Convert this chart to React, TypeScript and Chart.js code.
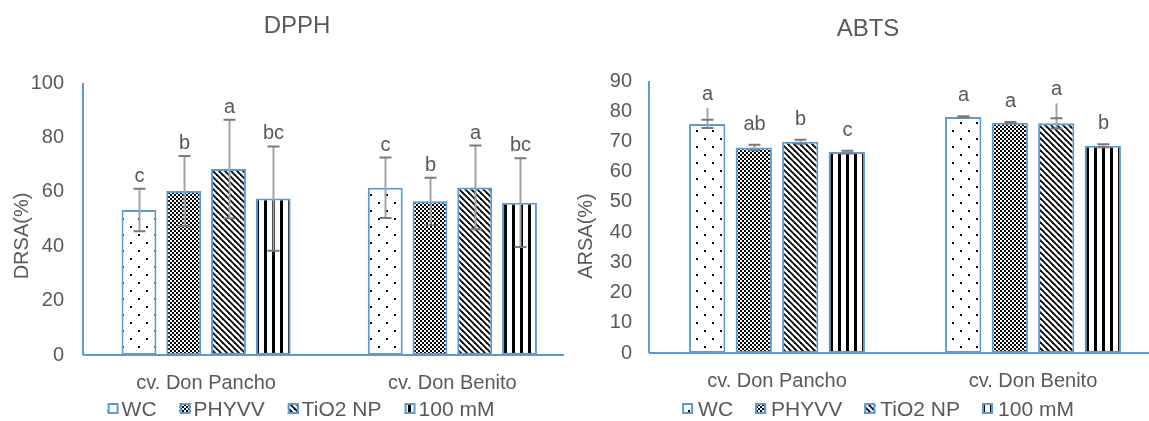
import React, { useEffect, useRef } from "react";
import { Chart, registerables } from "chart.js";

Chart.register(...registerables);

// ---------- data ----------
const categories = ["cv. Don Pancho", "cv. Don Benito"];
const seriesNames = ["WC", "PHYVV", "TiO2 NP", "100 mM"];

// DPPH (DRSA %)
const dpphWC = [53.3, 61.5];
const dpphPHYVV = [60.3, 56.5];
const dpphTiO2 = [68.4, 61.6];
const dpph100 = [57.5, 56.0];
const dpphSdWC = [7.8, 11.1];
const dpphSdPHYVV = [12.9, 8.7];
const dpphSdTiO2 = [18.1, 15.4];
const dpphSd100 = [19.2, 16.3];
const dpphLetWC = ["c", "c"];
const dpphLetPHYVV = ["b", "b"];
const dpphLetTiO2 = ["a", "a"];
const dpphLet100 = ["bc", "bc"];
const dpphTicks = [0, 20, 40, 60, 80, 100];

// ABTS (ARSA %)
const abtsWC = [75.8, 78.1];
const abtsPHYVV = [68.0, 76.2];
const abtsTiO2 = [69.9, 76.0];
const abts100 = [66.5, 68.6];
const abtsSdWC = [1.35, 0.2];
const abtsSdPHYVV = [0.9, 0.2];
const abtsSdTiO2 = [0.65, 1.7];
const abtsSd100 = [0.45, 0.5];
// upper end of the whisker line where it runs past the cap
const abtsWhiskerWC = [81.0, null];
const abtsWhiskerPHYVV = [null, null];
const abtsWhiskerTiO2 = [null, 82.6];
const abtsWhisker100 = [null, null];
const abtsLetWC = ["a", "a"];
const abtsLetPHYVV = ["ab", "a"];
const abtsLetTiO2 = ["b", "a"];
const abtsLet100 = ["c", "b"];
const abtsTicks = [0, 10, 20, 30, 40, 50, 60, 70, 80, 90];

// ---------- styles ----------
const FONT = "'Liberation Sans', Arial, sans-serif";
const TEXT = "#595959";
const BLUE = "#5B9BD5";

function makePattern(kind: string): CanvasPattern {
  const c = document.createElement("canvas");
  const g = c.getContext("2d")!;
  if (kind === "dots") {
    c.width = 16; c.height = 16;
    g.fillStyle = "#fff"; g.fillRect(0, 0, 16, 16);
    g.fillStyle = "#000";
    g.fillRect(2, 2, 2, 2);
    g.fillRect(10, 10, 2, 2);
  } else if (kind === "checker") {
    c.width = 4; c.height = 4;
    g.fillStyle = "#fff"; g.fillRect(0, 0, 4, 4);
    g.fillStyle = "#000";
    g.fillRect(0, 0, 2, 2);
    g.fillRect(2, 2, 2, 2);
  } else if (kind === "diag") {
    c.width = 6; c.height = 6;
    g.fillStyle = "#fff"; g.fillRect(0, 0, 6, 6);
    g.strokeStyle = "#000"; g.lineWidth = 1.8;
    for (const k of [-6, 0, 6]) {
      g.beginPath(); g.moveTo(k - 1, -1); g.lineTo(k + 7, 7); g.stroke();
    }
  } else {
    c.width = 8; c.height = 8;
    g.fillStyle = "#fff"; g.fillRect(0, 0, 8, 8);
    g.fillStyle = "#000"; g.fillRect(0, 0, 3, 8);
  }
  return g.createPattern(c, "repeat")!;
}

type PanelCfg = {
  title: string;
  titleX: number; titleY: number;
  yTitle: string; yTitleX: number; yTitleY: number;
  values: number[][];
  sds: number[][];
  whiskers: (number | null)[][];
  letters: string[][];
  ticks: number[];
  max: number; step: number;
  width: number; padRight: number; padTop: number; xHeight: number; tickPad: number;
  gapCap: number; gapLine: number;
  legendCenter: number; legendBaseline: number; legendBoxGap: number; legendItemGap: number;
};

const dpphCfg: PanelCfg = {
  title: "DPPH", titleX: 297, titleY: 33,
  yTitle: "DRSA(%)", yTitleX: 22, yTitleY: 236,
  values: [dpphWC, dpphPHYVV, dpphTiO2, dpph100],
  sds: [dpphSdWC, dpphSdPHYVV, dpphSdTiO2, dpphSd100],
  whiskers: [[null, null], [null, null], [null, null], [null, null]],
  letters: [dpphLetWC, dpphLetPHYVV, dpphLetTiO2, dpphLet100],
  ticks: dpphTicks, max: 100, step: 20,
  width: 590, padRight: 14.5, padTop: 83, xHeight: 66, tickPad: 19,
  gapCap: 7, gapLine: 7,
  legendCenter: 301, legendBaseline: 416, legendBoxGap: 3, legendItemGap: 23,
};

const abtsCfg: PanelCfg = {
  title: "ABTS", titleX: 868 - 566, titleY: 36,
  yTitle: "ARSA(%)", yTitleX: 20, yTitleY: 236,
  values: [abtsWC, abtsPHYVV, abtsTiO2, abts100],
  sds: [abtsSdWC, abtsSdPHYVV, abtsSdTiO2, abtsSd100],
  whiskers: [abtsWhiskerWC, abtsWhiskerPHYVV, abtsWhiskerTiO2, abtsWhisker100],
  letters: [abtsLetWC, abtsLetPHYVV, abtsLetTiO2, abtsLet100],
  ticks: abtsTicks, max: 90, step: 10,
  width: 600, padRight: 5, padTop: 81, xHeight: 68, tickPad: 17,
  gapCap: 15, gapLine: 8,
  legendCenter: 878 - 566, legendBaseline: 416, legendBoxGap: 5, legendItemGap: 22,
};

function buildChart(canvas: HTMLCanvasElement, cfg: PanelCfg): Chart {
  const patterns = [makePattern("dots"), makePattern("checker"), makePattern("diag"), makePattern("vert")];
  const overlay = {
    id: "overlay",
    afterDatasetsDraw(chart: any) {
      const ctx: CanvasRenderingContext2D = chart.ctx;
      const ys = chart.scales.y;
      const area = chart.chartArea;
      ctx.save();
      // axes lines
      ctx.strokeStyle = BLUE;
      ctx.lineWidth = 2;
      ctx.beginPath();
      ctx.moveTo(area.left, area.top);
      ctx.lineTo(area.left, area.bottom);
      ctx.moveTo(area.left, area.bottom);
      ctx.lineTo(area.right, area.bottom);
      ctx.stroke();
      // error bars + letters
      chart.data.datasets.forEach((ds: any, di: number) => {
        const meta = chart.getDatasetMeta(di);
        meta.data.forEach((bar: any, i: number) => {
          const v = ds.data[i];
          const sd = cfg.sds[di][i];
          const wh = cfg.whiskers[di][i];
          const yHi = ys.getPixelForValue(v + sd);
          const yLo = ys.getPixelForValue(v - sd);
          const yLine = wh != null ? ys.getPixelForValue(wh) : yHi;
          const x = Math.round(bar.x) + 0.5;
          ctx.strokeStyle = "#A3A3A3";
          ctx.lineWidth = 2;
          ctx.beginPath();
          ctx.moveTo(x, yLine);
          ctx.lineTo(x, yLo);
          ctx.stroke();
          ctx.strokeStyle = "#7A7A7A";
          ctx.lineWidth = 2;
          ctx.beginPath();
          ctx.moveTo(x - 6, yHi); ctx.lineTo(x + 6, yHi);
          ctx.moveTo(x - 6, yLo); ctx.lineTo(x + 6, yLo);
          ctx.stroke();
          const ly = Math.min(yHi - cfg.gapCap, yLine - cfg.gapLine);
          ctx.fillStyle = TEXT;
          ctx.font = `20px ${FONT}`;
          ctx.textAlign = "center";
          ctx.textBaseline = "alphabetic";
          ctx.fillText(cfg.letters[di][i], x, ly);
        });
      });
      ctx.restore();
    },
    afterDraw(chart: any) {
      const ctx: CanvasRenderingContext2D = chart.ctx;
      ctx.save();
      ctx.fillStyle = TEXT;
      // title
      ctx.font = `24px ${FONT}`;
      ctx.textAlign = "center";
      ctx.textBaseline = "alphabetic";
      ctx.fillText(cfg.title, cfg.titleX, cfg.titleY);
      // y title
      ctx.save();
      ctx.translate(cfg.yTitleX, cfg.yTitleY);
      ctx.rotate(-Math.PI / 2);
      ctx.font = `20px ${FONT}`;
      ctx.textBaseline = "middle";
      ctx.fillText(cfg.yTitle, 0, 0);
      ctx.restore();
      // legend
      ctx.font = `21px ${FONT}`;
      ctx.textAlign = "left";
      const box = 11;
      const widths = chart.data.datasets.map((d: any) => ctx.measureText(d.label).width);
      let total = 0;
      widths.forEach((w: number) => { total += box + cfg.legendBoxGap + w; });
      total += cfg.legendItemGap * (widths.length - 1);
      let x = cfg.legendCenter - total / 2;
      chart.data.datasets.forEach((d: any, i: number) => {
        const top = cfg.legendBaseline - 13;
        ctx.fillStyle = d.backgroundColor;
        ctx.fillRect(x, top, box, box);
        ctx.strokeStyle = BLUE;
        ctx.lineWidth = 2;
        ctx.strokeRect(x + 1, top + 1, box - 2, box - 2);
        ctx.fillStyle = TEXT;
        ctx.fillText(d.label, x + box + cfg.legendBoxGap, cfg.legendBaseline);
        x += box + cfg.legendBoxGap + widths[i] + cfg.legendItemGap;
      });
      ctx.restore();
    },
  };

  return new Chart(canvas, {
    type: "bar",
    data: {
      labels: categories,
      datasets: cfg.values.map((vals, i) => ({
        label: seriesNames[i],
        data: vals,
        backgroundColor: patterns[i] as any,
        borderColor: BLUE,
        borderWidth: 2,
        borderSkipped: false,
        categoryPercentage: 0.727,
        barPercentage: 0.78,
      })),
    },
    options: {
      responsive: false,
      animation: false,
      devicePixelRatio: 1,
      layout: { padding: { top: cfg.padTop, right: cfg.padRight, left: 0, bottom: 0 } },
      plugins: {
        legend: { display: false },
        title: { display: false },
        tooltip: { enabled: false },
      },
      scales: {
        x: {
          grid: { display: false, drawTicks: false },
          border: { display: false },
          ticks: { font: { family: FONT, size: 20 }, color: TEXT, padding: 16 },
          afterFit: (s: any) => { s.height = cfg.xHeight; },
        },
        y: {
          min: 0,
          max: cfg.max,
          afterBuildTicks: (s: any) => { s.ticks = cfg.ticks.map((v) => ({ value: v })); },
          grid: { display: false, drawTicks: false },
          border: { display: false },
          ticks: { font: { family: FONT, size: 20 }, color: TEXT, padding: cfg.tickPad },
          afterFit: (s: any) => { s.width = 83; },
        },
      },
    },
    plugins: [overlay],
  });
}

export default function App() {
  const leftRef = useRef<HTMLCanvasElement>(null);
  const rightRef = useRef<HTMLCanvasElement>(null);

  useEffect(() => {
    const a = buildChart(leftRef.current!, dpphCfg);
    const b = buildChart(rightRef.current!, abtsCfg);
    return () => { a.destroy(); b.destroy(); };
  }, []);

  return (
    <div style={{ position: "fixed", left: 0, top: 0, width: 1149, height: 421, overflow: "hidden", background: "#fff" }}>
      <div style={{ position: "absolute", left: 0, top: 0, width: 564, height: 421, overflow: "hidden" }}>
        <canvas ref={leftRef} width={dpphCfg.width} height={421} style={{ display: "block" }} />
      </div>
      <div style={{ position: "absolute", left: 566, top: 0, width: abtsCfg.width, height: 421 }}>
        <canvas ref={rightRef} width={abtsCfg.width} height={421} style={{ display: "block" }} />
      </div>
    </div>
  );
}
